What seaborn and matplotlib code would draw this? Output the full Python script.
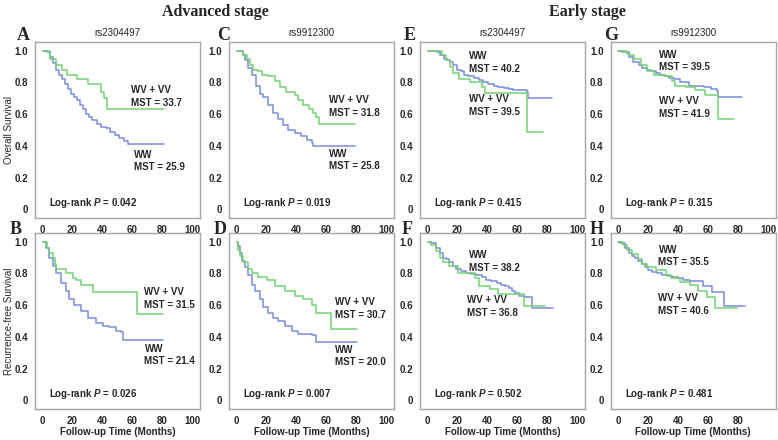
import matplotlib
matplotlib.use("Agg")
import matplotlib.pyplot as plt
import seaborn as sns

# Kaplan-Meier step data (time in months, survival fraction)
# Advanced stage, overall survival, rs2304497 (A)
A_ww_t = [0, 3, 5, 7, 9, 11, 13, 15, 17, 19, 21, 23, 25, 27, 29, 31, 33, 36, 39, 42, 45, 48, 51, 54, 57, 81]
A_ww_s = [1.0, 0.99, 0.96, 0.92, 0.88, 0.85, 0.82, 0.79, 0.76, 0.73, 0.71, 0.69, 0.66, 0.63, 0.60, 0.58, 0.56, 0.54, 0.52, 0.51, 0.49, 0.47, 0.45, 0.43, 0.41, 0.41]
A_wv_t = [0, 5, 9, 13, 16, 23, 30, 39, 41, 43, 81]
A_wv_s = [1.0, 0.95, 0.91, 0.88, 0.85, 0.82, 0.79, 0.74, 0.70, 0.63, 0.63]

# Advanced stage, overall survival, rs9912300 (C)
C_ww_t = [0, 4, 5.5, 7.8, 10, 13, 15.5, 17.8, 21, 24.4, 27.8, 31, 34.4, 39, 43, 46.7, 50, 51, 79]
C_ww_s = [1.0, 0.97, 0.94, 0.89, 0.85, 0.78, 0.73, 0.71, 0.66, 0.61, 0.57, 0.53, 0.50, 0.48, 0.46, 0.44, 0.42, 0.40, 0.40]
C_wv_t = [0, 4.5, 6.7, 9, 11, 14.4, 16.7, 21, 25.6, 29, 33, 39, 41, 44, 48, 51, 53, 55, 79]
C_wv_s = [1.0, 0.97, 0.95, 0.91, 0.88, 0.87, 0.85, 0.84, 0.81, 0.77, 0.74, 0.72, 0.69, 0.66, 0.63, 0.61, 0.58, 0.54, 0.54]

# Early stage, overall survival, rs2304497 (E)
E_ww_t = [0, 6, 8, 10.7, 13, 15, 17, 19.6, 22, 24, 27, 30.7, 34, 37, 40, 44, 47, 50.7, 54, 57, 62, 66, 66.7, 83]
E_ww_s = [1.0, 0.99, 0.97, 0.95, 0.94, 0.93, 0.91, 0.88, 0.87, 0.85, 0.84, 0.83, 0.815, 0.80, 0.79, 0.78, 0.77, 0.765, 0.76, 0.755, 0.75, 0.74, 0.70, 0.70]
E_wv_t = [0, 9.5, 12.4, 15, 17.3, 20.7, 28.4, 36, 38.2, 66, 77]
E_wv_s = [1.0, 0.97, 0.94, 0.90, 0.86, 0.82, 0.80, 0.77, 0.735, 0.49, 0.49]

# Early stage, overall survival, rs9912300 (G)
G_ww_t = [0, 2.5, 7, 10, 13.8, 16, 19.3, 22, 25, 28, 31.6, 34, 37, 41.6, 47, 52, 57, 62, 66, 66.5, 82.7]
G_ww_s = [1.0, 0.99, 0.96, 0.93, 0.91, 0.89, 0.88, 0.87, 0.86, 0.85, 0.84, 0.83, 0.82, 0.80, 0.78, 0.775, 0.77, 0.76, 0.745, 0.705, 0.705]
G_wv_t = [0, 6, 7, 10.4, 15, 19, 23.8, 30.4, 36, 38, 45, 51.6, 58, 66.7, 77]
G_wv_s = [1.0, 0.98, 0.97, 0.95, 0.91, 0.87, 0.85, 0.84, 0.81, 0.78, 0.77, 0.75, 0.72, 0.57, 0.57]

# Advanced stage, recurrence-free survival, rs2304497 (B)
B_ww_t = [0, 2.2, 4.4, 6.7, 8.9, 12.2, 15.5, 17.8, 21, 25.6, 30, 35.5, 40, 44.4, 49, 52, 53.8, 80]
B_ww_s = [1.0, 0.96, 0.90, 0.85, 0.80, 0.74, 0.69, 0.64, 0.60, 0.56, 0.52, 0.49, 0.47, 0.46, 0.44, 0.43, 0.38, 0.38]
B_wv_t = [0, 3, 4, 6.7, 8, 9.3, 15.5, 20, 22, 25.6, 33.8, 63.3, 80]
B_wv_s = [1.0, 0.96, 0.93, 0.90, 0.86, 0.83, 0.80, 0.77, 0.76, 0.73, 0.68, 0.545, 0.545]

# Advanced stage, recurrence-free survival, rs9912300 (D)
D_ww_t = [0, 1, 2.2, 3.5, 5.5, 7.8, 10, 12.2, 15.5, 17.8, 21, 24.4, 27.8, 32, 36.7, 41, 50, 53.3, 80]
D_ww_s = [1.0, 0.97, 0.93, 0.88, 0.84, 0.79, 0.73, 0.69, 0.64, 0.59, 0.55, 0.52, 0.50, 0.47, 0.44, 0.42, 0.41, 0.37, 0.37]
D_wv_t = [0, 1.1, 2.2, 4.4, 7.8, 10, 14.4, 20, 25.5, 32, 39, 44, 50, 53, 63.3, 80]
D_wv_s = [1.0, 0.95, 0.91, 0.87, 0.83, 0.80, 0.78, 0.76, 0.72, 0.69, 0.66, 0.64, 0.60, 0.55, 0.45, 0.45]

# Early stage, recurrence-free survival, rs2304497 (F)
F_ww_t = [0, 2.2, 5.6, 8, 10, 12, 14.6, 17, 19, 22, 25.8, 29, 32.6, 36, 39, 42, 46, 49, 51.7, 54, 56, 58, 60.7, 65, 69.7, 83.8]
F_ww_s = [1.0, 0.99, 0.96, 0.93, 0.90, 0.89, 0.87, 0.85, 0.83, 0.815, 0.80, 0.795, 0.79, 0.775, 0.76, 0.75, 0.74, 0.73, 0.72, 0.71, 0.69, 0.675, 0.66, 0.65, 0.58, 0.58]
F_wv_t = [0, 2.2, 5.6, 8, 10, 14.6, 20, 31.5, 34, 41.6, 47, 64, 78.6]
F_wv_s = [1.0, 0.98, 0.94, 0.90, 0.87, 0.85, 0.80, 0.77, 0.72, 0.70, 0.67, 0.595, 0.595]

# Early stage, recurrence-free survival, rs9912300 (H)
H_ww_t = [0, 1, 4.5, 7, 9, 11, 13.6, 16, 18, 20, 22.7, 26, 29.5, 33, 36, 40, 43, 48, 52, 56.8, 62.5, 70.4, 84.5]
H_ww_s = [1.0, 0.99, 0.96, 0.93, 0.91, 0.895, 0.88, 0.86, 0.84, 0.82, 0.81, 0.80, 0.79, 0.785, 0.78, 0.77, 0.76, 0.755, 0.75, 0.72, 0.68, 0.595, 0.595]
H_wv_t = [0, 3.5, 5.7, 9, 13.6, 16, 19.3, 25, 31.8, 35, 41, 47.7, 53.4, 59, 64.8, 79.5]
H_wv_s = [1.0, 0.98, 0.95, 0.92, 0.89, 0.86, 0.84, 0.82, 0.79, 0.77, 0.745, 0.725, 0.69, 0.65, 0.58, 0.58]

# Panel annotations
panelLetters = ["A", "C", "E", "G", "B", "D", "F", "H"]
snpNames = ["rs2304497", "rs9912300", "rs2304497", "rs9912300"]
mstWW = ["25.9", "25.8", "40.2", "39.5", "21.4", "20.0", "38.2", "35.5"]
mstWV = ["33.7", "31.8", "39.5", "41.9", "31.5", "30.7", "36.8", "40.6"]
pValues = ["0.042", "0.019", "0.415", "0.315", "0.026", "0.007", "0.502", "0.481"]
xTicks = [0, 20, 40, 60, 80, 100]
yTicks = [0, 0.2, 0.4, 0.6, 0.8, 1.0]
yTickLabels = ["0", "0.2", "0.4", "0.6", "0.8", "1.0"]

curves = [
    (A_ww_t, A_ww_s, A_wv_t, A_wv_s), (C_ww_t, C_ww_s, C_wv_t, C_wv_s),
    (E_ww_t, E_ww_s, E_wv_t, E_wv_s), (G_ww_t, G_ww_s, G_wv_t, G_wv_s),
    (B_ww_t, B_ww_s, B_wv_t, B_wv_s), (D_ww_t, D_ww_s, D_wv_t, D_wv_s),
    (F_ww_t, F_ww_s, F_wv_t, F_wv_s), (H_ww_t, H_ww_s, H_wv_t, H_wv_s),
]

# Layout (pixel positions and label placement in data coords)
W, H = 778, 440
colLefts = [35, 229, 420, 610.5]
rowTops = [42, 233]
axW, axH = 165, 176
letterX = [23, 224, 410, 611, 16, 220, 407, 597]
letterY = [35, 229]
wvPos = [(59, 0.75), (61.8, 0.69), (27.8, 0.693), (27.5, 0.68), (68, 0.68), (65.5, 0.62), (26.3, 0.633), (26.8, 0.643)]
wwPos = [(61, 0.345), (61.8, 0.35), (27.8, 0.966), (27.5, 0.975), (68, 0.325), (65.5, 0.32), (27.4, 0.917), (27, 0.95)]

GREEN = "#74d174"
BLUE = "#7a8dd8"
SPINE = "#a6a6a6"

sns.set_style("white")
plt.rcParams['font.family'] = ['Liberation Sans', 'DejaVu Sans']
plt.rcParams['mathtext.fontset'] = 'custom'
plt.rcParams['mathtext.it'] = 'Liberation Sans:italic:bold'
plt.rcParams['mathtext.rm'] = 'Liberation Sans:bold'

fig = plt.figure(figsize=(W / 100, H / 100), dpi=100)
fig.patch.set_facecolor("white")

for i in range(8):
    row, col = divmod(i, 4)
    left, top = colLefts[col], rowTops[row]
    ax = fig.add_axes([left / W, 1 - (top + axH) / H, axW / W, axH / H])
    wwT, wwS, wvT, wvS = curves[i]

    # Draw Step Curves
    sns.lineplot(x=wwT, y=wwS, ax=ax, color=BLUE, lw=1.1, drawstyle="steps-post", estimator=None, sort=False)
    sns.lineplot(x=wvT, y=wvS, ax=ax, color=GREEN, lw=1.1, drawstyle="steps-post", estimator=None, sort=False)

    ax.set_xlim(-5, 105)
    ax.set_ylim(-0.055, 1.055)
    ax.set_xticks(xTicks)
    if i == 7:
        ax.set_xticklabels(["0", "20", "40", "60", "80", ""])
    else:
        ax.set_xticklabels([str(t) for t in xTicks])
    ax.set_yticks(yTicks)
    ax.set_yticklabels(yTickLabels)
    ax.tick_params(direction="out", length=3.5, width=0.8, color=SPINE, labelsize=7, pad=1.5)
    for lab in ax.get_xticklabels() + ax.get_yticklabels():
        lab.set_fontweight("bold")
    for sp in ax.spines.values():
        sp.set_color(SPINE)
        sp.set_linewidth(1.0)
    ax.set_xlabel("")
    ax.set_ylabel("")

    # Group Labels
    wx, wy = wvPos[i]
    ax.text(wx, wy, "WV + VV", fontsize=7, fontweight="bold", va="center")
    ax.text(wx, wy - 0.08, f"MST = {mstWV[i]}", fontsize=7, fontweight="bold", va="center")
    bx, by = wwPos[i]
    ax.text(bx, by, "WW", fontsize=7, fontweight="bold", va="center")
    ax.text(bx, by - 0.08, f"MST = {mstWW[i]}", fontsize=7, fontweight="bold", va="center")
    ax.text(4.4, 0.04, f"Log-rank $P$ = {pValues[i]}", fontsize=7, fontweight="bold", va="center")

    # Panel Letter
    fig.text(letterX[i] / W, 1 - letterY[row] / H, panelLetters[i], fontsize=13, fontweight="bold",
             family="Liberation Serif", ha="center", va="center")

    if row == 0:
        ax.set_title(snpNames[col], fontsize=7, pad=4)
    else:
        ax.set_xlabel("Follow-up Time (Months)", fontsize=7, fontweight="bold")
        ax.xaxis.set_label_coords(0.5, (top + axH - 427) / axH, transform=ax.transAxes)

    if col == 0:
        ax.set_ylabel("Overall Survival" if row == 0 else "Recurrence-free Survival", fontsize=7)
        ax.yaxis.set_label_coords((14 - left) / axW, 0.5, transform=ax.transAxes)

# Stage Headers
fig.text(215 / W, 1 - 12 / H, "Advanced stage", fontsize=11.5, fontweight="bold", family="Liberation Serif",
         ha="center", va="center")
fig.text(587 / W, 1 - 12 / H, "Early stage", fontsize=11.5, fontweight="bold", family="Liberation Serif",
         ha="center", va="center")

fig.savefig("out.png", dpi=100, facecolor="white")
